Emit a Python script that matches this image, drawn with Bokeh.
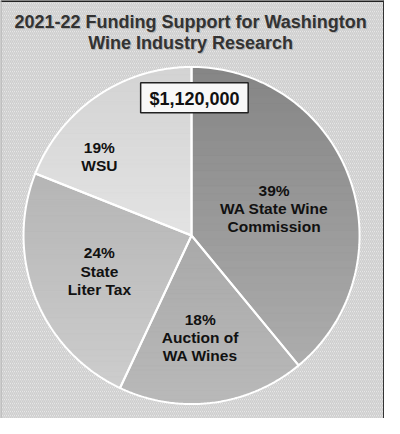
import numpy as np
from bokeh.plotting import figure
from bokeh.models import Range1d
from bokeh.core.properties import value
from bokeh.embed import file_html
from bokeh.resources import INLINE

# ---------------- data ----------------
title_lines = ["2021-22 Funding Support for Washington", "Wine Industry Research"]
total_label = "$1,120,000"
categories = ["WA State Wine Commission", "Auction of WA Wines", "State Liter Tax", "WSU"]
shares = [39, 18, 24, 19]
label_lines = [["39%", "WA State Wine", "Commission"],
               ["18%", "Auction of", "WA Wines"],
               ["24%", "State", "Liter Tax"],
               ["19%", "WSU"]]

# ---------------- style / layout ----------------
top_colors = ["#858585", "#a9a9a9", "#b5b5b5", "#d3d3d3"]
bottom_colors = ["#adadad", "#b9b9b9", "#cdcdcd", "#e3e3e3"]
label_centers = [(285, 216), (208, 350), (103, 281), (103, 162)]
CX, CY, R = 199.0, 244.0, 175.0
FONT = value("Liberation Sans")

p = figure(width=384, height=418, x_range=Range1d(0, 400), y_range=Range1d(434, 0),
           output_backend="svg", toolbar_location=None, min_border=0)
p.axis.visible = False
p.grid.visible = False
p.outline_line_color = None
p.background_fill_color = "#f3f3f3"
p.border_fill_color = "#f3f3f3"

# hatched background
p.quad(left=[0], right=[400], top=[0], bottom=[434], fill_color="#f3f3f3",
       line_color=None, hatch_pattern="\\", hatch_color="#cdcdcd",
       hatch_scale=4, hatch_weight=1.5)

# frame lines
p.segment(x0=[0], y0=[0], x1=[400], y1=[0], line_color="#222222", line_width=3)
p.segment(x0=[400], y0=[0], x1=[400], y1=[434], line_color="#333333", line_width=3)
p.segment(x0=[0], y0=[0], x1=[0], y1=[434], line_color="#aaaaaa", line_width=2)


def hex2rgb(h):
    return np.array([int(h[i:i + 2], 16) for i in (1, 3, 5)], dtype=float)


def rgb2hex(c):
    return "#%02x%02x%02x" % tuple(int(round(v)) for v in c)


def clip(pts, y0, keep_ge):
    out = []
    n = len(pts)
    for i in range(n):
        x1, y1 = pts[i]
        x2, y2 = pts[(i + 1) % n]
        in1 = (y1 >= y0) if keep_ge else (y1 <= y0)
        in2 = (y2 >= y0) if keep_ge else (y2 <= y0)
        if in1:
            out.append((x1, y1))
        if in1 != in2:
            t = (y0 - y1) / (y2 - y1)
            out.append((x1 + t * (x2 - x1), y0))
    return out


cum = np.concatenate([[0], np.cumsum(shares)]) / np.sum(shares) * 2 * np.pi
wedge_polys = []
for i in range(len(shares)):
    a = np.linspace(cum[i], cum[i + 1], 120)
    pts = [(CX, CY)] + list(zip(CX + R * np.sin(a), CY - R * np.cos(a)))
    wedge_polys.append(pts)

# base wedges
base_xs = [[q[0] for q in w] for w in wedge_polys]
base_ys = [[q[1] for q in w] for w in wedge_polys]
mid_cols = [rgb2hex((hex2rgb(t) + hex2rgb(b)) / 2) for t, b in zip(top_colors, bottom_colors)]
p.patches(xs=base_xs, ys=base_ys, fill_color=mid_cols, line_color=None)

# vertical gradient strips
sx, sy, sc = [], [], []
NB = 40
for i, w in enumerate(wedge_polys):
    ys_ = [q[1] for q in w]
    y0, y1 = min(ys_), max(ys_)
    ct, cb = hex2rgb(top_colors[i]), hex2rgb(bottom_colors[i])
    edges = np.linspace(y0, y1, NB + 1)
    for k in range(NB):
        poly = clip(clip(w, edges[k], True), edges[k + 1], False)
        if len(poly) < 3:
            continue
        t = (k + 0.5) / NB
        col = rgb2hex(ct * (1 - t) + cb * t)
        sx.append([q[0] for q in poly])
        sy.append([q[1] for q in poly])
        sc.append(col)
p.patches(xs=sx, ys=sy, fill_color=sc, line_color=sc, line_width=0.6)

# white separators / outline
p.patches(xs=base_xs, ys=base_ys, fill_color=None, line_color="white", line_width=2)

# slice labels
lx, ly, lt = [], [], []
SP = 19
for (cx_, cy_), lines in zip(label_centers, label_lines):
    n = len(lines)
    for j, s in enumerate(lines):
        lx.append(cx_)
        ly.append(cy_ + (j - (n - 1) / 2) * SP)
        lt.append(s)
p.text(x=lx, y=ly, text=lt, text_align="center", text_baseline="middle",
       text_font=FONT, text_font_style="bold", text_font_size="15.5px", text_color="#111111")

# total box
p.rect(x=[202], y=[101], width=112, height=31, fill_color="#f8f8f8",
       line_color="#222222", line_width=1.5)
p.text(x=[202], y=[102], text=[total_label], text_align="center", text_baseline="middle",
       text_font=FONT, text_font_style="bold", text_font_size="18px", text_color="#111111")

# title with soft shadow
tx = [198, 198]
ty = [22, 44]
p.text(x=[v + 1 for v in tx], y=[v + 1.2 for v in ty], text=title_lines, text_align="center",
       text_baseline="middle", text_font=FONT, text_font_style="bold",
       text_font_size="18px", text_color="#999999", text_alpha=0.6)
p.text(x=tx, y=ty, text=title_lines, text_align="center", text_baseline="middle",
       text_font=FONT, text_font_style="bold", text_font_size="18px", text_color="#333333")

open("out.html", "w").write(file_html(p, INLINE))
